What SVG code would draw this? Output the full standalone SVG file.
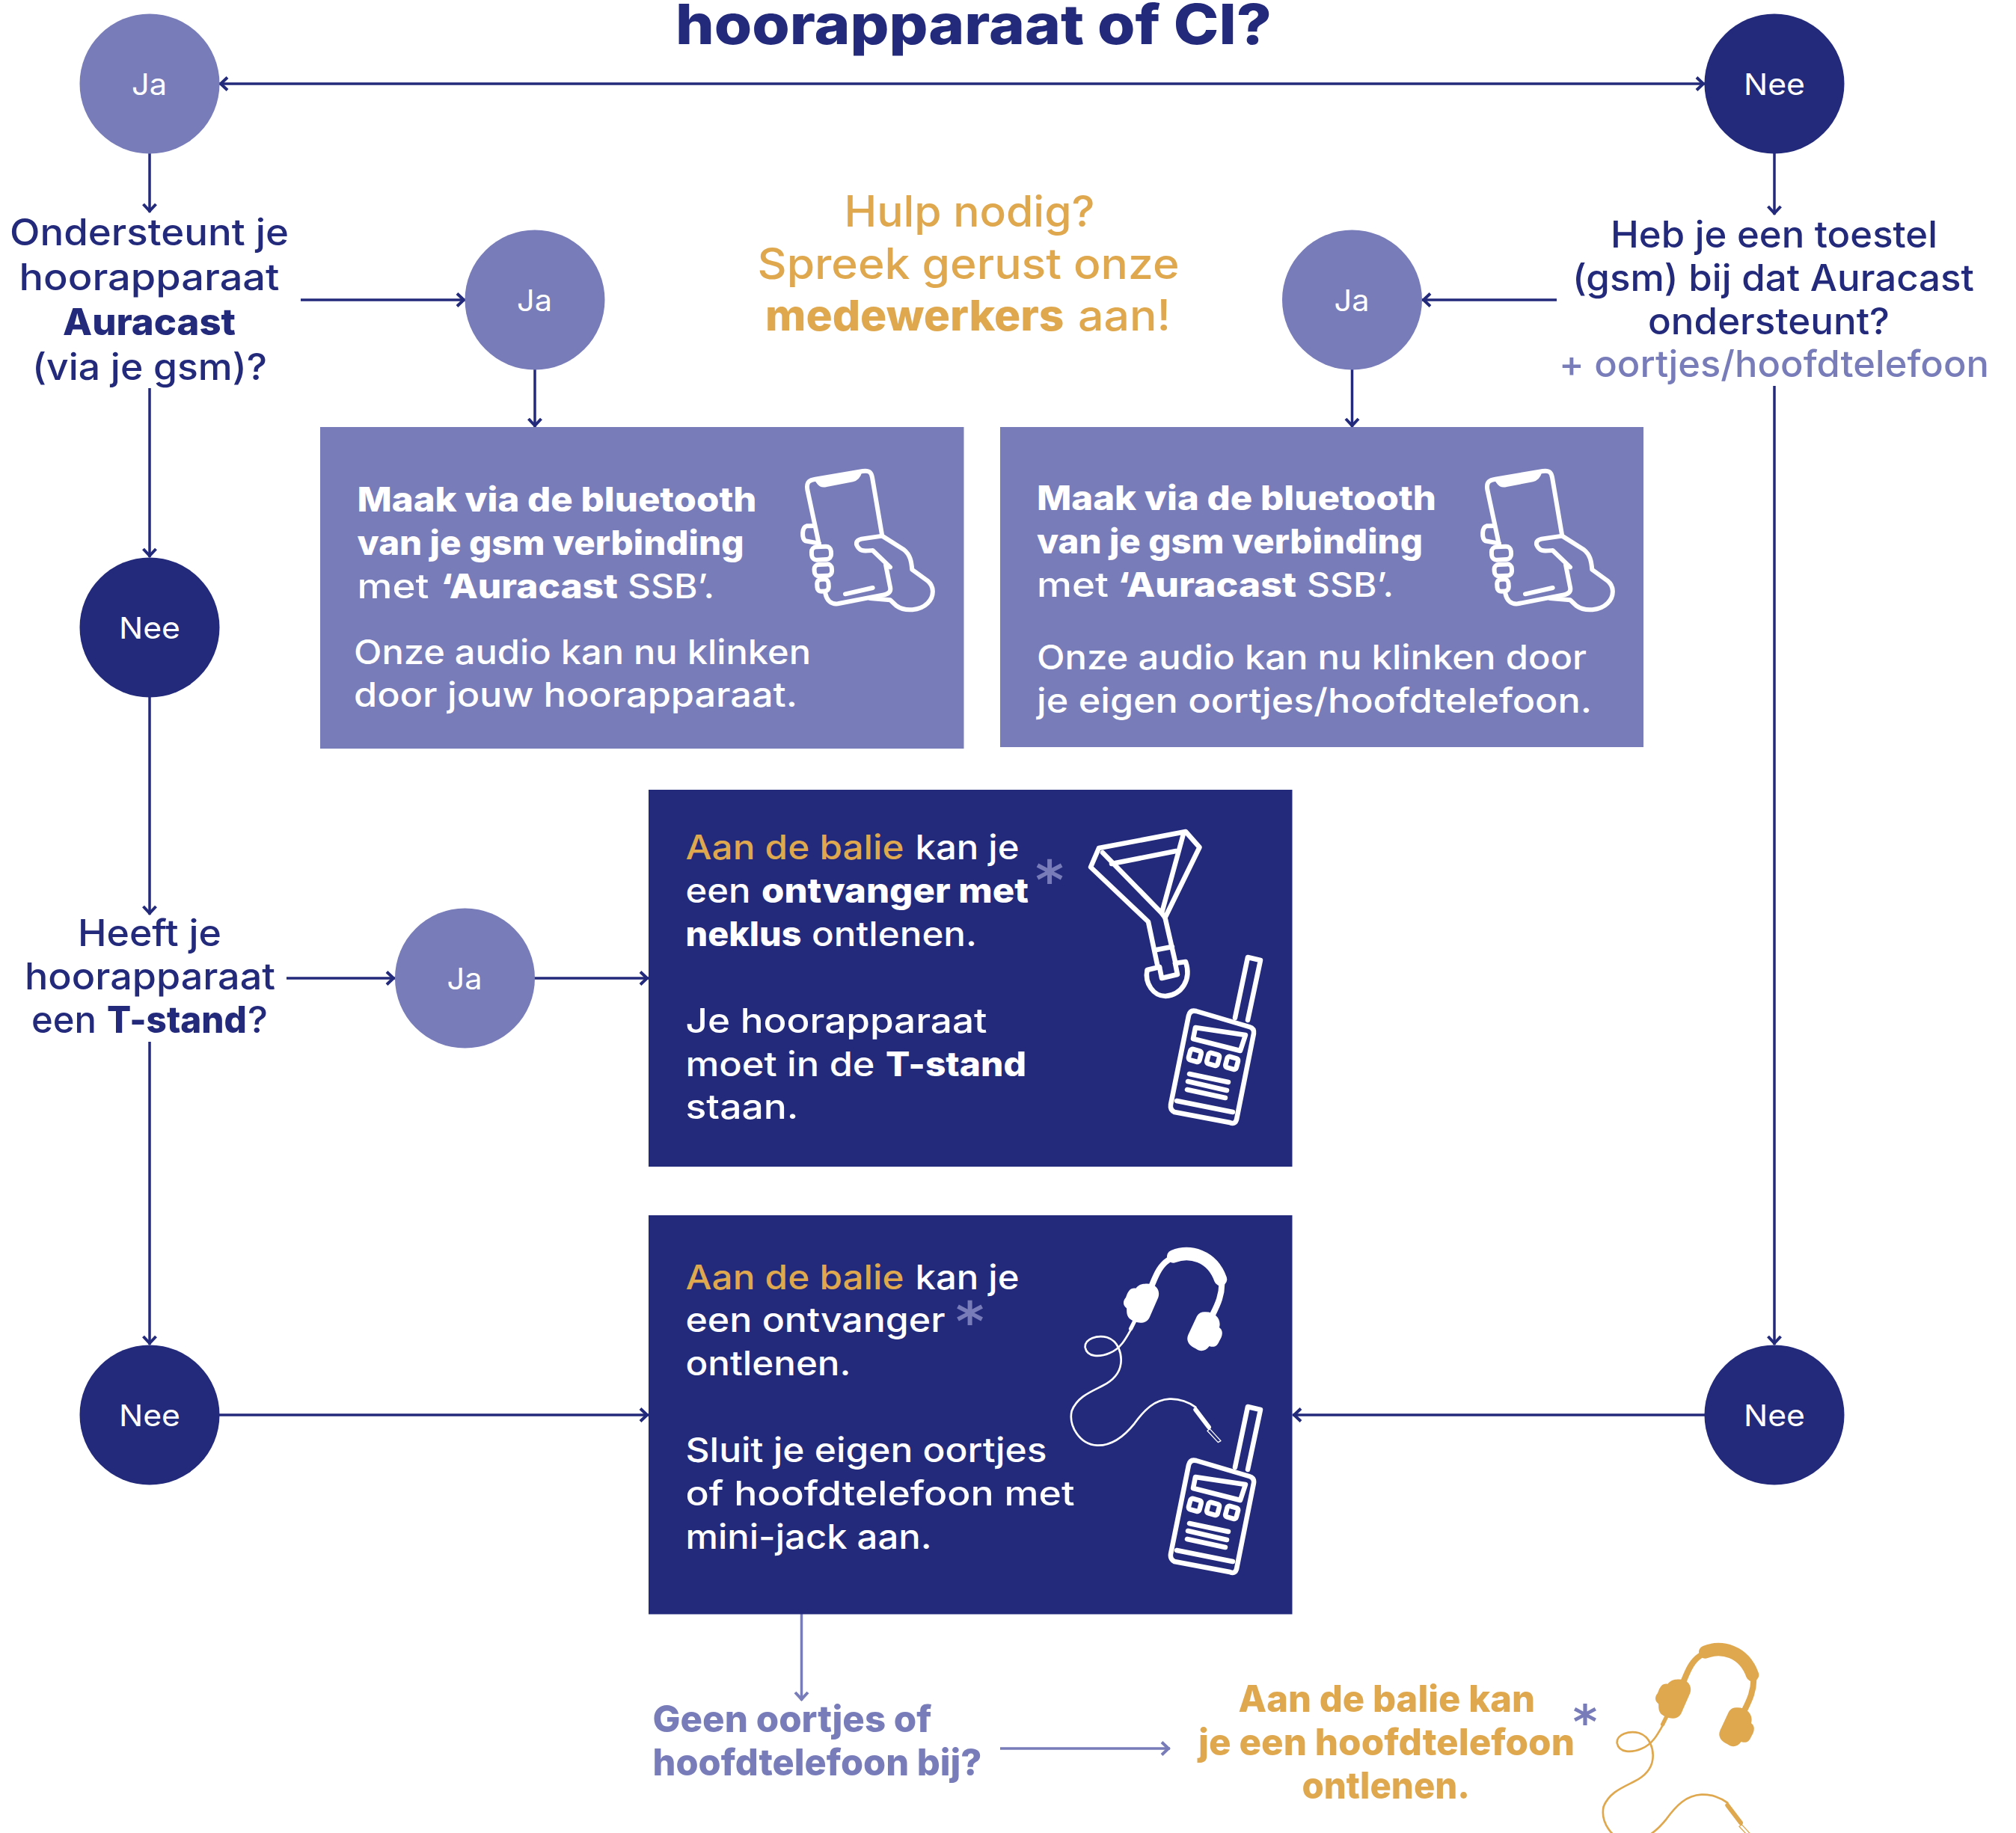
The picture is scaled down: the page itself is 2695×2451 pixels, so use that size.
<svg xmlns="http://www.w3.org/2000/svg" width="2695" height="2451" viewBox="0 0 2695 2451">
<style>
text{font-family:"Inter","Lato","Liberation Sans",sans-serif;font-weight:500}
.b{font-weight:800}
.t48{font-size:49px;fill:#232a7b}
.t44{font-size:45px;fill:#fff}
.lbl{font-size:40px;fill:#fff;font-weight:400}
.gold{fill:#dfa84f}
.lite{fill:#787cb9}
.navy{fill:#232a7b}
.ast{font-family:"DejaVu Sans",sans-serif;font-weight:700;font-size:72px;fill:#787cb9;text-anchor:middle}
.c{fill:none;stroke:#232a7b;stroke-width:3.5}
.cl{fill:none;stroke:#787cb9;stroke-width:3.5}
.ln{fill:none;stroke:currentColor;stroke-linecap:round;stroke-linejoin:round}
</style>
<defs>
<marker id="a" markerUnits="userSpaceOnUse" markerWidth="26" markerHeight="26" refX="14" refY="13" orient="auto-start-reverse"><path d="M3,4.5 L12,13 L3,21.5" fill="none" stroke="#232a7b" stroke-width="4"/></marker>
<marker id="al" markerUnits="userSpaceOnUse" markerWidth="26" markerHeight="26" refX="14" refY="13" orient="auto-start-reverse"><path d="M3,4.5 L12,13 L3,21.5" fill="none" stroke="#787cb9" stroke-width="4"/></marker>
<g id="phone" transform="translate(1040 600) scale(.3333)" fill="none" stroke="#fff" stroke-width="18" stroke-linecap="round" stroke-linejoin="round">
<path d="M165,385 L118,165 C112,130 130,125 150,122 L340,90 C370,85 375,100 378,115 L418,350"/>
<path d="M150,125 C165,150 175,155 195,150 L300,130 C320,125 330,110 335,90 Z" fill="#fff" stroke-width="6"/>
<path d="M418,350 L505,405 C530,425 535,450 538,485 L600,530 C625,550 630,590 600,620 C570,650 510,655 475,630 L450,607 L370,600"/>
<path d="M418,350 L335,362 C310,368 310,385 325,400 C335,412 350,410 380,408 L450,475"/>
<path d="M432,465 L450,555 C455,575 440,585 420,587 L240,622 C210,625 195,605 190,580"/>
<path d="M270,583 L380,558"/>
<rect x="135" y="393" width="78" height="52" rx="20" transform="rotate(-3 175 418)"/>
<rect x="146" y="464" width="70" height="46" rx="18" transform="rotate(-3 182 487)"/>
<rect x="157" y="524" width="46" height="48" rx="16" transform="rotate(-3 180 547)"/>
<path d="M138,310 L115,310 C95,315 95,360 110,370 L165,380"/>
</g>
<g id="walkie" fill="none" stroke="#fff" stroke-width="6.5" stroke-linecap="round" stroke-linejoin="round">
<path d="M1599,1352 L1670,1373 Q1677,1375 1676,1382 L1653,1497 Q1651,1504 1644,1501 L1570,1487 Q1564,1484 1565,1477 L1589,1358 Q1591,1350 1599,1352 Z"/>
<path d="M1573,1472 L1648,1487"/>
<path d="M1651,1361 L1668,1280 L1685,1284 L1668,1364"/>
<path d="M1598,1374 L1665,1384 L1658,1405 L1595,1389 Z"/>
<rect x="1590" y="1404" width="15" height="15" rx="3" transform="rotate(15 1598 1411)"/>
<rect x="1614" y="1409" width="15" height="15" rx="3" transform="rotate(15 1622 1417)"/>
<rect x="1639" y="1414" width="15" height="15" rx="3" transform="rotate(15 1647 1422)"/>
<path d="M1590,1436 L1642,1447 M1588,1446 L1640,1458 M1587,1457 L1638,1468"/>
</g>
<g id="phones" transform="translate(1420 1660) scale(.3333)">
<path class="ln" stroke-width="52" d="M446,60 C510,35 600,55 635,152"/>
<path class="ln" stroke-width="24" d="M425,75 C395,95 380,125 360,175 M640,170 C640,215 625,250 605,290"/>
<path fill="currentColor" d="M330,170 C375,165 395,195 385,225 L350,305 C335,335 295,330 270,310 C255,295 260,275 258,268 C240,255 245,235 255,225 C265,195 275,185 295,188 C305,175 320,170 330,170 Z"/>
<path fill="currentColor" d="M570,283 C610,280 640,310 630,345 C650,360 640,385 630,400 C620,425 605,425 590,420 C575,440 555,445 535,430 C510,418 495,400 505,375 L540,300 C548,288 558,283 570,283 Z"/>
<path class="ln" stroke-width="16" d="M290,320 L275,350"/>
<path class="ln" stroke-width="8" d="M280,345 C255,390 235,430 190,448 C150,465 100,465 92,425 C90,390 140,375 180,385 C225,400 240,450 235,490 C230,530 200,560 160,580 C110,605 60,625 38,680 C25,740 70,815 140,818 C200,820 250,780 290,730 C330,675 370,635 430,632 C470,630 510,645 535,665"/>
<path class="ln" stroke-width="18" d="M535,675 L588,745"/>
<path class="ln" stroke-width="4" d="M592,752 L582,760 L625,806 L636,800 Z"/>
</g>
</defs>

<rect width="2695" height="2451" fill="#fff"/>

<g id="connectors">
<path class="c" d="M293,112 H2279" marker-start="url(#a)" marker-end="url(#a)"/>
<path class="c" d="M200,205 V284" marker-end="url(#a)"/>
<path class="c" d="M200,519 V745" marker-end="url(#a)"/>
<path class="c" d="M402,401 H622" marker-end="url(#a)"/>
<path class="c" d="M715,494 V571" marker-end="url(#a)"/>
<path class="c" d="M2372,205 V287" marker-end="url(#a)"/>
<path class="c" d="M2081,401 H1901" marker-end="url(#a)"/>
<path class="c" d="M1807.5,494 V571" marker-end="url(#a)"/>
<path class="c" d="M2372,516 V1798" marker-end="url(#a)"/>
<path class="c" d="M200,932 V1223" marker-end="url(#a)"/>
<path class="c" d="M200,1393 V1798" marker-end="url(#a)"/>
<path class="c" d="M383,1308 H528" marker-end="url(#a)"/>
<path class="c" d="M714,1308 H867" marker-end="url(#a)"/>
<path class="c" d="M293,1892 H867" marker-end="url(#a)"/>
<path class="c" d="M2279,1892 H1728" marker-end="url(#a)"/>
<path class="cl" d="M1071.5,2158 V2274" marker-end="url(#al)"/>
<path class="cl" d="M1337,2338 H1564" marker-end="url(#al)"/>
</g>

<g id="title"><text x="903" y="59" font-size="74" class="b navy" textLength="797" lengthAdjust="spacingAndGlyphs">hoorapparaat of CI?</text></g>

<g id="node-ja-top"><circle cx="200" cy="112" r="93.5" fill="#787cb9"/><text class="lbl" x="176" y="127" textLength="47" lengthAdjust="spacingAndGlyphs">Ja</text></g>
<g id="node-nee-top"><circle cx="2372" cy="112" r="93.5" fill="#232a7b"/><text class="lbl" x="2331" y="127" textLength="82" lengthAdjust="spacingAndGlyphs">Nee</text></g>
<g id="node-ja-left"><circle cx="715" cy="401" r="93.5" fill="#787cb9"/><text class="lbl" x="691" y="416" textLength="47" lengthAdjust="spacingAndGlyphs">Ja</text></g>
<g id="node-ja-right"><circle cx="1807.5" cy="401" r="93.5" fill="#787cb9"/><text class="lbl" x="1783.5" y="416" textLength="47" lengthAdjust="spacingAndGlyphs">Ja</text></g>
<g id="node-nee-left"><circle cx="200" cy="839" r="93.5" fill="#232a7b"/><text class="lbl" x="159" y="854" textLength="82" lengthAdjust="spacingAndGlyphs">Nee</text></g>
<g id="node-ja-tstand"><circle cx="621.5" cy="1308" r="93.5" fill="#787cb9"/><text class="lbl" x="597.5" y="1323" textLength="47" lengthAdjust="spacingAndGlyphs">Ja</text></g>
<g id="node-nee-bl"><circle cx="200" cy="1892" r="93.5" fill="#232a7b"/><text class="lbl" x="159" y="1907" textLength="82" lengthAdjust="spacingAndGlyphs">Nee</text></g>
<g id="node-nee-br"><circle cx="2372" cy="1892" r="93.5" fill="#232a7b"/><text class="lbl" x="2331" y="1907" textLength="82" lengthAdjust="spacingAndGlyphs">Nee</text></g>

<g id="q-auracast">
<text class="t48" x="13" y="328" textLength="373" lengthAdjust="spacingAndGlyphs">Ondersteunt je</text>
<text class="t48" x="25.5" y="388" textLength="348" lengthAdjust="spacingAndGlyphs">hoorapparaat</text>
<text class="t48 b" x="84" y="448" textLength="231" lengthAdjust="spacingAndGlyphs">Auracast</text>
<text class="t48" x="43" y="508" textLength="314" lengthAdjust="spacingAndGlyphs">(via je gsm)?</text>
</g>
<g id="q-toestel">
<text class="t48" x="2153" y="331" textLength="437" lengthAdjust="spacingAndGlyphs">Heb je een toestel</text>
<text class="t48" x="2102" y="389" textLength="537" lengthAdjust="spacingAndGlyphs">(gsm) bij dat Auracast</text>
<text class="t48" x="2203" y="447" textLength="323" lengthAdjust="spacingAndGlyphs">ondersteunt?</text>
<text class="t48" style="fill:#787cb9" x="2084" y="504" textLength="575" lengthAdjust="spacingAndGlyphs">+ oortjes/hoofdtelefoon</text>
</g>
<g id="hulp">
<text font-size="57" class="gold" x="1128.5" y="303" textLength="335" lengthAdjust="spacingAndGlyphs">Hulp nodig?</text>
<text font-size="57" class="gold" x="1012.5" y="372.5" textLength="564" lengthAdjust="spacingAndGlyphs">Spreek gerust onze</text>
<text font-size="57" class="gold" y="442"><tspan class="b" x="1023" textLength="399.5" lengthAdjust="spacingAndGlyphs">medewerkers</tspan><tspan x="1441" textLength="124" lengthAdjust="spacingAndGlyphs">aan!</tspan></text>
</g>

<g id="box-aura-hoor">
<rect x="428" y="571" width="860.5" height="430" fill="#787cb9"/>
<text class="t44 b" x="477.5" y="684" textLength="534" lengthAdjust="spacingAndGlyphs">Maak via de bluetooth</text>
<text class="t44 b" x="477.5" y="741.5" textLength="517" lengthAdjust="spacingAndGlyphs">van je gsm verbinding</text>
<text class="t44" y="800"><tspan x="477.5" textLength="96" lengthAdjust="spacingAndGlyphs">met</tspan><tspan class="b" x="589" textLength="237" lengthAdjust="spacingAndGlyphs">‘Auracast</tspan><tspan x="839" textLength="116" lengthAdjust="spacingAndGlyphs">SSB’.</tspan></text>
<text class="t44" x="473" y="887.5" textLength="611" lengthAdjust="spacingAndGlyphs">Onze audio kan nu klinken</text>
<text class="t44" x="473" y="945" textLength="593" lengthAdjust="spacingAndGlyphs">door jouw hoorapparaat.</text>
<use href="#phone"/>
</g>
<g id="box-aura-eigen">
<rect x="1337" y="571" width="860" height="428" fill="#787cb9"/>
<text class="t44 b" x="1386" y="682" textLength="534" lengthAdjust="spacingAndGlyphs">Maak via de bluetooth</text>
<text class="t44 b" x="1386" y="740" textLength="516" lengthAdjust="spacingAndGlyphs">van je gsm verbinding</text>
<text class="t44" y="798"><tspan x="1386" textLength="96" lengthAdjust="spacingAndGlyphs">met</tspan><tspan class="b" x="1494" textLength="239" lengthAdjust="spacingAndGlyphs">‘Auracast</tspan><tspan x="1747" textLength="116" lengthAdjust="spacingAndGlyphs">SSB’.</tspan></text>
<text class="t44" x="1386" y="894.5" textLength="735" lengthAdjust="spacingAndGlyphs">Onze audio kan nu klinken door</text>
<text class="t44" x="1386" y="952.5" textLength="742" lengthAdjust="spacingAndGlyphs">je eigen oortjes/hoofdtelefoon.</text>
<use href="#phone" x="909"/>
</g>

<g id="q-tstand">
<text class="t48" x="104" y="1264.5" textLength="192" lengthAdjust="spacingAndGlyphs">Heeft je</text>
<text class="t48" x="33" y="1322.5" textLength="335" lengthAdjust="spacingAndGlyphs">hoorapparaat</text>
<text class="t48" y="1380.5"><tspan x="42" textLength="87" lengthAdjust="spacingAndGlyphs">een</tspan><tspan class="b" x="143" textLength="187" lengthAdjust="spacingAndGlyphs">T-stand</tspan><tspan x="331" textLength="27" lengthAdjust="spacingAndGlyphs">?</tspan></text>
</g>

<g id="box-neklus">
<rect x="867" y="1056" width="860.5" height="504" fill="#232a7b"/>
<text class="t44" y="1149"><tspan class="gold" x="916.5" textLength="292" lengthAdjust="spacingAndGlyphs">Aan de balie</tspan><tspan x="1223.5" textLength="139" lengthAdjust="spacingAndGlyphs">kan je</tspan></text>
<text class="t44" y="1206.5"><tspan x="916.5" textLength="87" lengthAdjust="spacingAndGlyphs">een</tspan><tspan class="b" x="1018" textLength="357" lengthAdjust="spacingAndGlyphs">ontvanger met</tspan></text>
<text class="t44" y="1264.5"><tspan class="b" x="916.5" textLength="155" lengthAdjust="spacingAndGlyphs">neklus</tspan><tspan x="1085" textLength="221" lengthAdjust="spacingAndGlyphs">ontlenen.</tspan></text>
<text class="t44" x="916.5" y="1380.5" textLength="403" lengthAdjust="spacingAndGlyphs">Je hoorapparaat</text>
<text class="t44" y="1438.5"><tspan x="916.5" textLength="253" lengthAdjust="spacingAndGlyphs">moet in de</tspan><tspan class="b" x="1184" textLength="188" lengthAdjust="spacingAndGlyphs">T-stand</tspan></text>
<text class="t44" x="916.5" y="1496" textLength="151" lengthAdjust="spacingAndGlyphs">staan.</text>
<text class="ast" x="1403" y="1202">*</text>
<g fill="none" stroke="#fff" stroke-width="6.5" stroke-linecap="round" stroke-linejoin="round">
<path d="M1469,1134 L1585,1112 L1603.5,1133 L1557.5,1227 L1571.5,1288 M1469,1134 L1458,1159.5 L1535,1232.5 L1547.5,1292"/>
<path d="M1474,1140 L1553,1221 L1557.5,1227 M1582,1115 L1553,1221"/>
<path d="M1486,1155 L1572,1138"/>
<path d="M1546,1270 L1567,1266"/>
<path d="M1550,1293 L1553,1308 L1574,1303 L1571,1288"/>
<path d="M1550,1293 L1533.5,1297 C1530,1315 1542,1332 1558,1332 C1580,1330 1593,1310 1585,1286 L1571,1288"/>
</g>
<use href="#walkie"/>
</g>

<g id="box-minijack">
<rect x="867" y="1625" width="860.5" height="533.5" fill="#232a7b"/>
<text class="t44" y="1723.5"><tspan class="gold" x="916.5" textLength="292" lengthAdjust="spacingAndGlyphs">Aan de balie</tspan><tspan x="1223.5" textLength="139" lengthAdjust="spacingAndGlyphs">kan je</tspan></text>
<text class="t44" x="916.5" y="1781" textLength="347" lengthAdjust="spacingAndGlyphs">een ontvanger</text>
<text class="t44" x="916.5" y="1839" textLength="221" lengthAdjust="spacingAndGlyphs">ontlenen.</text>
<text class="t44" x="916.5" y="1954.5" textLength="483" lengthAdjust="spacingAndGlyphs">Sluit je eigen oortjes</text>
<text class="t44" x="916.5" y="2013" textLength="520" lengthAdjust="spacingAndGlyphs">of hoofdtelefoon met</text>
<text class="t44" x="916.5" y="2070.5" textLength="329" lengthAdjust="spacingAndGlyphs">mini-jack aan.</text>
<text class="ast" x="1296.5" y="1792">*</text>
<g style="color:#fff"><use href="#phones"/></g>
<use href="#walkie" y="601"/>
</g>

<g id="q-geen">
<text font-size="49" class="b lite" x="872.5" y="2315.5" textLength="373" lengthAdjust="spacingAndGlyphs">Geen oortjes of</text>
<text font-size="49" class="b lite" x="872.5" y="2373.5" textLength="440" lengthAdjust="spacingAndGlyphs">hoofdtelefoon bij?</text>
</g>
<g id="balie-hoofdtelefoon">
<text font-size="49" class="b gold" x="1655.5" y="2289" textLength="396.5" lengthAdjust="spacingAndGlyphs">Aan de balie kan</text>
<text font-size="49" class="b gold" x="1602" y="2347" textLength="503" lengthAdjust="spacingAndGlyphs">je een hoofdtelefoon</text>
<text font-size="49" class="b gold" x="1740.5" y="2404.5" textLength="224.5" lengthAdjust="spacingAndGlyphs">ontlenen.</text>
<text class="ast" style="font-size:62px" x="2119" y="2324">*</text>
<g transform="translate(711 529)" style="color:#dfa84f"><use href="#phones"/></g>
</g>
</svg>
